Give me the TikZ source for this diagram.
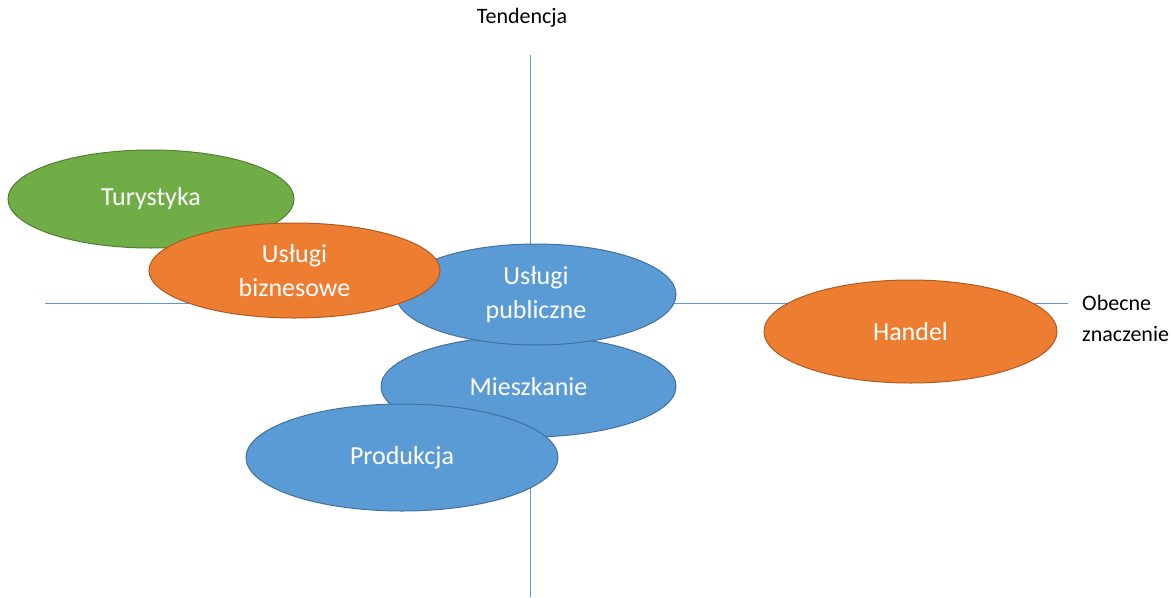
\documentclass[tikz,border=0pt]{standalone}
\usepackage{fontspec}
\setmainfont{Carlito}
\usetikzlibrary{shapes.geometric}
\definecolor{grn}{HTML}{70AD47}
\definecolor{grnb}{HTML}{507E32}
\definecolor{org}{HTML}{ED7D31}
\definecolor{orgb}{HTML}{AE5A21}
\definecolor{blu}{HTML}{5B9BD5}
\definecolor{blub}{HTML}{41719C}
\tikzset{
  blob/.style={ellipse, inner sep=0pt, line width=1pt, text=white, align=center,
    font=\fontsize{26}{34}\selectfont},
  gblob/.style={blob, fill=grn, draw=grnb},
  oblob/.style={blob, fill=org, draw=orgb},
  bblob/.style={blob, fill=blu, draw=blub},
  axis/.style={draw=blu, line width=0.8pt},
  lbl/.style={font=\fontsize{22}{31}\selectfont, text=black, inner sep=0pt}
}
\begin{document}
\begin{tikzpicture}[x=1pt, y=-1pt]
\useasboundingbox (0,0) rectangle (1175,597);
\coordinate (hl) at (45,303);
\coordinate (hr) at (1068,303);
\coordinate (vt) at (530,55);
\coordinate (vb) at (530,597);
\draw[axis] (hl) -- (hr);
\draw[axis] (vt) -- (vb);
\node[lbl] (tend) at (522,18) {Tendencja};
\node[lbl, anchor=west, align=left] (obec) at (1082,318) {Obecne\\znaczenie};
\node[gblob, minimum width=286pt, minimum height=98pt] (tur) at (151,199) {Turystyka};
\node[bblob, minimum width=295pt, minimum height=101pt] (mie) at (528.5,386.5) {Mieszkanie};
\node[bblob, minimum width=280pt, minimum height=101pt] (pub) at (536,294.5) {Usługi\\publiczne};
\node[oblob, minimum width=291pt, minimum height=95pt] (biz) at (294.5,270.5) {Usługi\\biznesowe};
\node[bblob, minimum width=312pt, minimum height=107pt] (pro) at (402,457.5) {Produkcja};
\node[oblob, minimum width=293pt, minimum height=103pt] (han) at (910.5,331.5) {Handel};
\end{tikzpicture}
\end{document}
